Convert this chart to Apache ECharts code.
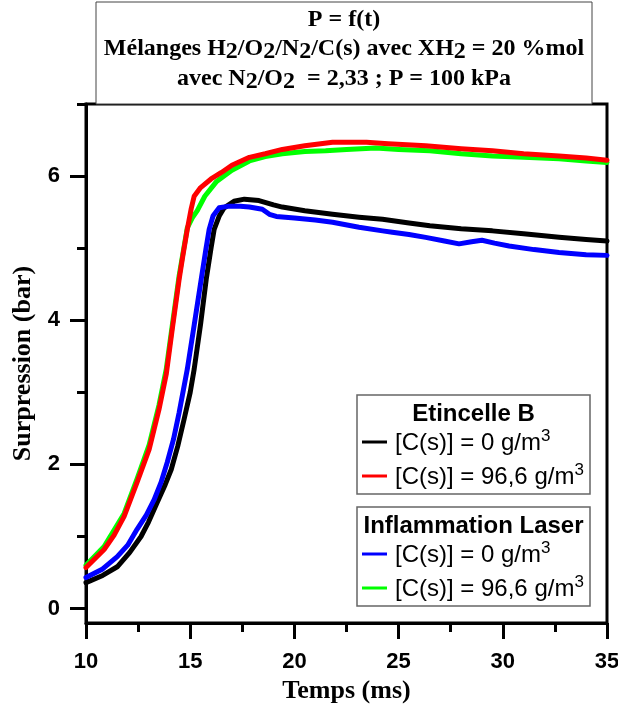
<!DOCTYPE html>
<html lang="fr">
<head>
<meta charset="utf-8">
<title>P = f(t)</title>
<script src="https://cdn.jsdelivr.net/npm/echarts@6/dist/echarts.min.js"></script>
<style>
    html, body { margin: 0; padding: 0; background: #fff; }
    #chart { width: 618px; height: 707px; }
</style>
</head>
<body>
<div id="chart"></div>
<script>
/* ============================================================
 *  Surpression en fonction du temps - mélanges H2/O2/N2/C(s)
 * ============================================================ */

// ---- graduations ----
var yMajorTicks = [0, 2, 4, 6];
var yMinorTicks = [1, 3, 5, 7];

// ---- Etincelle B, [C(s)] = 0 g/m3 (noir) ----
var etincelle0Temps = [10.0, 10.8, 11.5, 12.1, 12.64, 13.0, 13.41, 13.8, 14.09, 14.4, 14.71, 15.0, 15.19, 15.5, 15.77, 16.0, 16.15, 16.4, 16.63, 17.1, 17.6, 18.3, 19.0, 19.42, 20.5, 21.83, 23.1, 24.23, 25.5, 26.5, 28.0, 29.5, 31.0, 32.7, 34.0, 35.0];
var etincelle0P = [0.36, 0.46, 0.58, 0.78, 1.0, 1.2, 1.47, 1.72, 1.93, 2.25, 2.63, 3.0, 3.32, 3.95, 4.57, 5.0, 5.26, 5.45, 5.56, 5.65, 5.68, 5.66, 5.6, 5.57, 5.52, 5.47, 5.43, 5.40, 5.35, 5.31, 5.27, 5.24, 5.2, 5.15, 5.12, 5.10];

// ---- Etincelle B, [C(s)] = 96,6 g/m3 (rouge) ----
var etincelle96Temps = [10.0, 10.87, 11.35, 11.83, 12.45, 13.03, 13.5, 13.85, 14.15, 14.47, 14.65, 14.86, 15.05, 15.19, 15.5, 16.0, 16.5, 17.0, 17.84, 18.6, 19.42, 20.5, 21.83, 23.46, 24.5, 26.3, 28.0, 29.5, 31.0, 32.7, 34.0, 35.0];
var etincelle96P = [0.57, 0.82, 1.02, 1.28, 1.75, 2.21, 2.76, 3.25, 3.9, 4.57, 4.9, 5.26, 5.55, 5.72, 5.84, 5.96, 6.05, 6.15, 6.26, 6.31, 6.37, 6.42, 6.47, 6.47, 6.45, 6.42, 6.38, 6.35, 6.31, 6.28, 6.25, 6.22];

// ---- Inflammation laser, [C(s)] = 0 g/m3 (bleu) ----
var laser0Temps = [10.0, 10.8, 11.5, 12.0, 12.45, 12.9, 13.27, 13.6, 13.9, 14.2, 14.47, 14.86, 15.2, 15.53, 15.75, 15.91, 16.1, 16.39, 16.8, 17.4, 17.84, 18.46, 18.8, 19.13, 20.0, 21.0, 21.83, 23.1, 24.23, 24.7, 25.5, 26.3, 27.2, 27.9, 28.5, 29.0, 29.6, 30.3, 31.5, 32.7, 34.0, 35.0];
var laser0P = [0.43, 0.55, 0.72, 0.88, 1.1, 1.3, 1.51, 1.75, 2.03, 2.35, 2.72, 3.32, 3.95, 4.57, 4.98, 5.26, 5.45, 5.56, 5.58, 5.58, 5.57, 5.54, 5.47, 5.44, 5.42, 5.39, 5.36, 5.29, 5.24, 5.22, 5.19, 5.15, 5.1, 5.06, 5.09, 5.11, 5.07, 5.03, 4.98, 4.94, 4.91, 4.90];

// ---- Inflammation laser, [C(s)] = 96,6 g/m3 (vert) ----
var laser96Temps = [10.0, 10.87, 11.83, 12.45, 13.03, 13.5, 13.85, 14.15, 14.47, 14.86, 15.1, 15.34, 15.7, 16.25, 17.0, 17.84, 18.6, 19.42, 20.5, 21.5, 22.5, 23.9, 25.0, 26.5, 28.0, 29.5, 31.0, 32.7, 34.0, 35.0];
var laser96P = [0.60, 0.86, 1.32, 1.8, 2.27, 2.82, 3.32, 3.95, 4.62, 5.28, 5.42, 5.52, 5.72, 5.92, 6.08, 6.21, 6.27, 6.31, 6.34, 6.35, 6.37, 6.39, 6.37, 6.35, 6.31, 6.28, 6.26, 6.24, 6.21, 6.19];

(function () {
    'use strict';

    var SERIF = '"Liberation Serif", "Times New Roman", serif';
    var SANS = '"Liberation Sans", Arial, sans-serif';

    // assemble [t, P] pairs
    function zip(ts, ps) {
        var out = [];
        for (var i = 0; i < ts.length; i++) {
            out.push([ts[i], ps[i]]);
        }
        return out;
    }

    function courbe(name, color, ts, ps) {
        return {
            name: name,
            type: 'line',
            data: zip(ts, ps),
            showSymbol: false,
            smooth: false,
            lineStyle: { color: color, width: 5, join: 'round', cap: 'round' },
            itemStyle: { color: color },
            silent: true,
            animation: false
        };
    }

    // ---- texte du titre (indices en ligne) ----
    var titreRich = {
        n: { fontFamily: SERIF, fontWeight: 'bold', fontSize: 24, lineHeight: 30, verticalAlign: 'middle', fill: '#000' },
        s: { fontFamily: SERIF, fontWeight: 'bold', fontSize: 24, lineHeight: 22, verticalAlign: 'bottom', fill: '#000' }
    };

    function titreLigne(txt, y) {
        return {
            type: 'text',
            x: 344,
            y: y,
            style: {
                text: txt,
                rich: titreRich,
                align: 'center',
                verticalAlign: 'middle',
                fill: '#000'
            },
            z: 20
        };
    }

    // ---- légende : deux cadres ----
    var legRich = {
        n: { fontFamily: SANS, fontSize: 24, lineHeight: 30, verticalAlign: 'middle', fill: '#000' },
        e: { fontFamily: SANS, fontSize: 17, lineHeight: 20, verticalAlign: 'top', fill: '#000' }
    };

    function legendeCadre(top, titre, c1, c2) {
        var x0 = 357, w = 233;
        return [
            {
                type: 'rect',
                shape: { x: x0, y: top, width: w, height: 99 },
                style: { fill: '#fff', stroke: '#666', lineWidth: 1.5 },
                z: 30
            },
            {
                type: 'text', x: x0 + w / 2, y: top + 19,
                style: { text: titre, font: 'bold 24px ' + SANS, fill: '#000', align: 'center', verticalAlign: 'middle' },
                z: 31
            },
            {
                type: 'line', shape: { x1: 362, y1: top + 47, x2: 387, y2: top + 47 },
                style: { stroke: c1, lineWidth: 3 }, z: 31
            },
            {
                type: 'text', x: 395, y: top + 48,
                style: { text: '{n|[C(s)] = 0 g/m}{e|3}', rich: legRich, align: 'left', verticalAlign: 'middle' },
                z: 31
            },
            {
                type: 'line', shape: { x1: 362, y1: top + 81, x2: 387, y2: top + 81 },
                style: { stroke: c2, lineWidth: 3 }, z: 31
            },
            {
                type: 'text', x: 395, y: top + 82,
                style: { text: '{n|[C(s)] = 96,6 g/m}{e|3}', rich: legRich, align: 'left', verticalAlign: 'middle' },
                z: 31
            }
        ];
    }

    var labelFont = { fontFamily: SANS, fontWeight: 'bold', fontSize: 22, color: '#000' };
    var nameFont = { fontFamily: SERIF, fontWeight: 'bold', fontSize: 26, color: '#000' };

    var option = {
        backgroundColor: '#fff',
        animation: false,
        grid: {
            left: 86, right: 11, top: 104, bottom: 84,
            outerBoundsMode: 'none',
            containLabel: false,
            show: true,
            borderColor: '#000',
            borderWidth: 3,
            backgroundColor: 'transparent'
        },
        xAxis: {
            type: 'value',
            min: 10, max: 35, interval: 5,
            name: 'Temps (ms)',
            nameLocation: 'middle',
            nameGap: 52,
            nameTextStyle: nameFont,
            axisLine: { show: true, onZero: false, lineStyle: { color: '#000', width: 3 } },
            axisTick: { show: true, length: 16, lineStyle: { color: '#000', width: 3 } },
            minorTick: { show: true, splitNumber: 2, length: 9, lineStyle: { color: '#000', width: 3 } },
            axisLabel: Object.assign({ margin: 28 }, labelFont),
            splitLine: { show: false },
            minorSplitLine: { show: false }
        },
        yAxis: [
            {
                type: 'value',
                min: -0.2, max: 7,
                position: 'left',
                name: 'Surpression (bar)',
                nameLocation: 'middle',
                nameGap: 50,
                nameTextStyle: nameFont,
                axisLine: { show: true, onZero: false, lineStyle: { color: '#000', width: 3 } },
                axisTick: { show: true, length: 16, customValues: yMajorTicks, lineStyle: { color: '#000', width: 3 } },
                axisLabel: Object.assign({ margin: 26, customValues: yMajorTicks }, labelFont),
                splitLine: { show: false }
            },
            {
                type: 'value',
                min: -0.2, max: 7,
                position: 'left',
                axisLine: { show: false },
                axisTick: { show: true, length: 9, customValues: yMinorTicks, lineStyle: { color: '#000', width: 3 } },
                axisLabel: { show: false, customValues: yMinorTicks },
                splitLine: { show: false }
            }
        ],
        series: [
            courbe('Etincelle B 0', '#000000', etincelle0Temps, etincelle0P),
            courbe('Laser 0', '#0000ff', laser0Temps, laser0P),
            courbe('Laser 96,6', '#00ff00', laser96Temps, laser96P),
            courbe('Etincelle B 96,6', '#ff0000', etincelle96Temps, etincelle96P)
        ],
        graphic: [
            {
                type: 'rect',
                shape: { x: 96, y: 2, width: 496, height: 102 },
                style: { fill: '#fff', stroke: '#444', lineWidth: 1 },
                z: 19
            },
            titreLigne('{n|P = f(t)}', 20),
            titreLigne('{n|Mélanges H}{s|2}{n|/O}{s|2}{n|/N}{s|2}{n|/C(s) avec XH}{s|2}{n| = 20 %mol}', 49),
            titreLigne('{n|avec N}{s|2}{n|/O}{s|2}{n|  = 2,33 ; P = 100 kPa}', 79)
        ].concat(
            legendeCadre(395, 'Etincelle B', '#000000', '#ff0000'),
            legendeCadre(507, 'Inflammation Laser', '#0000ff', '#00ff00')
        )
    };

    function init() {
        var el = document.getElementById('chart');
        if (typeof echarts === 'undefined') {
            el.textContent = 'ECharts non chargé';
            return;
        }
        var chart = echarts.init(el, null, { renderer: 'canvas' });
        chart.setOption(option);
        window.addEventListener('resize', function () {
            chart.resize();
        });
    }

    if (document.readyState === 'loading') {
        document.addEventListener('DOMContentLoaded', init);
    } else {
        init();
    }
})();
</script>
</body>
</html>
